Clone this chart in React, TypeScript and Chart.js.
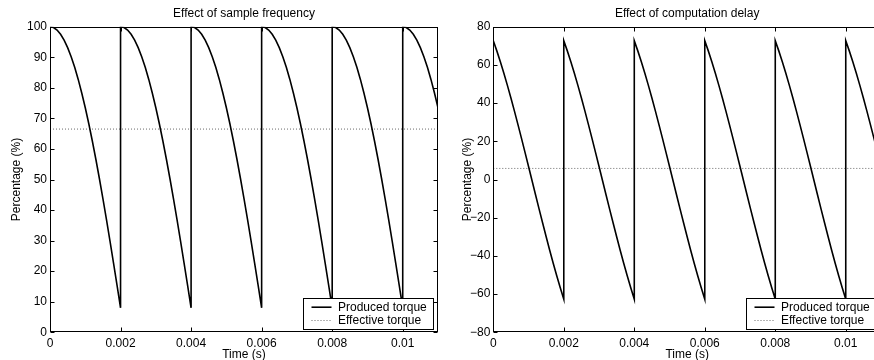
import React, { useEffect, useRef } from "react";
import { Chart, registerables } from "chart.js";

Chart.register(...registerables);

// ---------- data ----------
const time = [
  0, 0.0001, 0.0002, 0.0003, 0.0004, 0.0005, 0.0006, 0.0007, 0.0008, 0.0009, 0.001,
  0.0011, 0.0012, 0.0013, 0.0014, 0.0015, 0.0016, 0.0017, 0.0018, 0.0019, 0.002,
  0.002, 0.0021, 0.0022, 0.0023, 0.0024, 0.0025, 0.0026, 0.0027, 0.0028, 0.0029, 0.003,
  0.0031, 0.0032, 0.0033, 0.0034, 0.0035, 0.0036, 0.0037, 0.0038, 0.0039, 0.004,
  0.004, 0.0041, 0.0042, 0.0043, 0.0044, 0.0045, 0.0046, 0.0047, 0.0048, 0.0049, 0.005,
  0.0051, 0.0052, 0.0053, 0.0054, 0.0055, 0.0056, 0.0057, 0.0058, 0.0059, 0.006,
  0.006, 0.0061, 0.0062, 0.0063, 0.0064, 0.0065, 0.0066, 0.0067, 0.0068, 0.0069, 0.007,
  0.0071, 0.0072, 0.0073, 0.0074, 0.0075, 0.0076, 0.0077, 0.0078, 0.0079, 0.008,
  0.008, 0.0081, 0.0082, 0.0083, 0.0084, 0.0085, 0.0086, 0.0087, 0.0088, 0.0089, 0.009,
  0.0091, 0.0092, 0.0093, 0.0094, 0.0095, 0.0096, 0.0097, 0.0098, 0.0099, 0.01,
  0.01, 0.0101, 0.0102, 0.0103, 0.0104, 0.0105, 0.0106, 0.0107, 0.0108, 0.0109, 0.011,
];

const producedSampleFreq = [
  100, 99.72, 98.89, 97.51, 95.59, 93.14, 90.17, 86.7, 82.75, 78.33, 73.49,
  68.23, 62.59, 56.63, 50.33, 43.77, 36.94, 29.92, 22.73, 15.42, 8.02,
  100, 99.72, 98.89, 97.51, 95.59, 93.14, 90.17, 86.7, 82.75, 78.33, 73.49,
  68.23, 62.59, 56.63, 50.33, 43.77, 36.94, 29.92, 22.73, 15.42, 8.02,
  100, 99.72, 98.89, 97.51, 95.59, 93.14, 90.17, 86.7, 82.75, 78.33, 73.49,
  68.23, 62.59, 56.63, 50.33, 43.77, 36.94, 29.92, 22.73, 15.42, 8.02,
  100, 99.72, 98.89, 97.51, 95.59, 93.14, 90.17, 86.7, 82.75, 78.33, 73.49,
  68.23, 62.59, 56.63, 50.33, 43.77, 36.94, 29.92, 22.73, 15.42, 8.02,
  100, 99.72, 98.89, 97.51, 95.59, 93.14, 90.17, 86.7, 82.75, 78.33, 73.49,
  68.23, 62.59, 56.63, 50.33, 43.77, 36.94, 29.92, 22.73, 15.42, 8.02,
  100, 99.72, 98.89, 97.51, 95.59, 93.14, 90.17, 86.7, 82.75, 78.33, 73.49,
];

const producedCompDelay = [
  72.66, 67.34, 61.66, 55.62, 49.27, 42.66, 35.8, 28.75, 21.54, 14.21, 6.8,
  -0.65, -8.09, -15.49, -22.8, -29.99, -37.01, -43.82, -50.4, -56.69, -62.66,
  72.66, 67.34, 61.66, 55.62, 49.27, 42.66, 35.8, 28.75, 21.54, 14.21, 6.8,
  -0.65, -8.09, -15.49, -22.8, -29.99, -37.01, -43.82, -50.4, -56.69, -62.66,
  72.66, 67.34, 61.66, 55.62, 49.27, 42.66, 35.8, 28.75, 21.54, 14.21, 6.8,
  -0.65, -8.09, -15.49, -22.8, -29.99, -37.01, -43.82, -50.4, -56.69, -62.66,
  72.66, 67.34, 61.66, 55.62, 49.27, 42.66, 35.8, 28.75, 21.54, 14.21, 6.8,
  -0.65, -8.09, -15.49, -22.8, -29.99, -37.01, -43.82, -50.4, -56.69, -62.66,
  72.66, 67.34, 61.66, 55.62, 49.27, 42.66, 35.8, 28.75, 21.54, 14.21, 6.8,
  -0.65, -8.09, -15.49, -22.8, -29.99, -37.01, -43.82, -50.4, -56.69, -62.66,
  72.66, 67.34, 61.66, 55.62, 49.27, 42.66, 35.8, 28.75, 21.54, 14.21, 6.8,
];

const effectiveTime = [0, 0.011];
const effectiveSampleFreq = [66.5, 66.5];
const effectiveCompDelay = [5.8, 5.8];

const xTicks = [0, 0.002, 0.004, 0.006, 0.008, 0.01];
const xTickLabels = ["0", "0.002", "0.004", "0.006", "0.008", "0.01"];
const yTicksSampleFreq = [0, 10, 20, 30, 40, 50, 60, 70, 80, 90, 100];
const yTickLabelsSampleFreq = ["0", "10", "20", "30", "40", "50", "60", "70", "80", "90", "100"];
const yTicksCompDelay = [-80, -60, -40, -20, 0, 20, 40, 60, 80];
const yTickLabelsCompDelay = ["\u221280", "\u221260", "\u221240", "\u221220", "0", "20", "40", "60", "80"];

const legendLabels = ["Produced torque", "Effective torque"];
const plotTitles = ["Effect of sample frequency", "Effect of computation delay"];
const xAxisTitle = "Time (s)";
const yAxisTitle = "Percentage (%)";

// ---------- styling ----------
const FONT_FAMILY = '"Liberation Sans", Arial, Helvetica, sans-serif';
const FONT_SIZE = 12;
const fontMain = { family: FONT_FAMILY, size: FONT_SIZE, weight: "normal" as const };

const matlabPlugin = {
  id: "matlabFrame",
  afterDraw(chart: any) {
    const { ctx, chartArea: a, scales } = chart;
    const xs = scales.x;
    const ys = scales.y;
    ctx.save();
    ctx.strokeStyle = "#000";
    ctx.lineWidth = 1;
    ctx.setLineDash([]);
    const L = Math.round(a.left) + 0.5;
    const R = Math.round(a.right) - 0.5;
    const T = Math.round(a.top) + 0.5;
    const B = Math.round(a.bottom) - 0.5;
    ctx.strokeRect(L, T, R - L, B - T);
    const tl = 4;
    ctx.beginPath();
    xs.ticks.forEach((t: any) => {
      const px = Math.round(xs.getPixelForValue(t.value)) + 0.5;
      ctx.moveTo(px, B);
      ctx.lineTo(px, B - tl);
      ctx.moveTo(px, T);
      ctx.lineTo(px, T + tl);
    });
    ys.ticks.forEach((t: any) => {
      const py = Math.round(ys.getPixelForValue(t.value)) + 0.5;
      ctx.moveTo(L, py);
      ctx.lineTo(L + tl, py);
      ctx.moveTo(R, py);
      ctx.lineTo(R - tl, py);
    });
    ctx.stroke();

    // legend box (lower right, inside axes)
    const bx0 = Math.round(a.right - 135) + 0.5;
    const bx1 = Math.round(a.right - 5) + 0.5;
    const by0 = Math.round(a.bottom - 34.5) + 0.5;
    const by1 = Math.round(a.bottom - 3.5) + 0.5;
    ctx.fillStyle = "#fff";
    ctx.fillRect(bx0, by0, bx1 - bx0, by1 - by0);
    ctx.strokeStyle = "#000";
    ctx.strokeRect(bx0, by0, bx1 - bx0, by1 - by0);
    chart.data.datasets.forEach((ds: any, i: number) => {
      const cy = by0 + 8.7 + i * 13.3;
      ctx.save();
      ctx.strokeStyle = ds.borderColor;
      ctx.lineWidth = ds.borderWidth;
      ctx.setLineDash(ds.borderDash || []);
      ctx.beginPath();
      ctx.moveTo(bx0 + 8, cy);
      ctx.lineTo(bx0 + 28, cy);
      ctx.stroke();
      ctx.restore();
      ctx.fillStyle = "#000";
      ctx.font = `${FONT_SIZE}px ${FONT_FAMILY}`;
      ctx.textBaseline = "middle";
      ctx.textAlign = "left";
      ctx.fillText(ds.label, bx0 + 34.5, cy);
    });
    ctx.restore();
  },
};

type PanelProps = {
  title: string;
  produced: number[];
  effective: number[];
  yMin: number;
  yMax: number;
  yTicks: number[];
  yTickLabels: string[];
  yAxisWidth: number;
  yTitlePad: number;
  padRight: number;
};

function Panel(p: PanelProps) {
  const ref = useRef<HTMLCanvasElement | null>(null);
  useEffect(() => {
    if (!ref.current) return;
    const chart = new Chart(ref.current, {
      type: "line",
      data: {
        datasets: [
          {
            label: legendLabels[0],
            data: time.map((t, i) => ({ x: t, y: p.produced[i] })),
            borderColor: "#000",
            borderWidth: 1.6,
            pointRadius: 0,
            fill: false,
            tension: 0,
          },
          {
            label: legendLabels[1],
            data: effectiveTime.map((t, i) => ({ x: t, y: p.effective[i] })),
            borderColor: "#6a6a6a",
            borderWidth: 1,
            borderDash: [1, 2],
            pointRadius: 0,
            fill: false,
          },
        ],
      },
      options: {
        animation: false,
        responsive: false,
        devicePixelRatio: 1,
        layout: { padding: { left: 0, right: p.padRight, top: 0, bottom: 0 } },
        plugins: {
          legend: { display: false },
          tooltip: { enabled: false },
          title: {
            display: true,
            text: p.title,
            fullSize: false,
            color: "#000",
            font: fontMain,
            padding: { top: 6, bottom: 6.3 },
          },
        },
        scales: {
          x: {
            type: "linear",
            min: 0,
            max: 0.011,
            afterBuildTicks: (s: any) => {
              s.ticks = xTicks.map((v) => ({ value: v }));
            },
            afterFit: (s: any) => {
              s.height = 27.7;
            },
            grid: { display: false, drawTicks: false },
            border: { display: false },
            ticks: {
              color: "#000",
              font: fontMain,
              padding: 4,
              maxRotation: 0,
              autoSkip: false,
              callback: (_v: any, i: number) => xTickLabels[i],
            },
            title: {
              display: true,
              text: xAxisTitle,
              color: "#000",
              font: fontMain,
              padding: { top: 0, bottom: -1.5 },
            },
          },
          y: {
            type: "linear",
            min: p.yMin,
            max: p.yMax,
            afterBuildTicks: (s: any) => {
              s.ticks = p.yTicks.map((v) => ({ value: v }));
            },
            afterFit: (s: any) => {
              s.width = p.yAxisWidth;
            },
            grid: { display: false, drawTicks: false },
            border: { display: false },
            ticks: {
              color: "#000",
              font: fontMain,
              padding: 3,
              autoSkip: false,
              callback: (_v: any, i: number) => p.yTickLabels[i],
            },
            title: {
              display: true,
              text: yAxisTitle,
              color: "#000",
              font: fontMain,
              padding: { top: p.yTitlePad, bottom: 0 },
            },
          },
        },
      },
      plugins: [matlabPlugin],
    } as any);
    return () => chart.destroy();
  }, []);
  return <canvas ref={ref} width={445} height={360} style={{ display: "block", width: 445, height: 360 }} />;
}

export default function App() {
  return (
    <div
      style={{
        position: "fixed",
        left: 0,
        top: 0,
        width: 874,
        height: 360,
        overflow: "hidden",
        background: "#fff",
      }}
    >
      <div style={{ position: "absolute", left: 0, top: 0 }}>
        <Panel
          title={plotTitles[0]}
          produced={producedSampleFreq}
          effective={effectiveSampleFreq}
          yMin={0}
          yMax={100}
          yTicks={yTicksSampleFreq}
          yTickLabels={yTickLabelsSampleFreq}
          yAxisWidth={50}
          yTitlePad={9.5}
          padRight={7}
        />
      </div>
      <div style={{ position: "absolute", left: 445, top: 0 }}>
        <Panel
          title={plotTitles[1]}
          produced={producedCompDelay}
          effective={effectiveCompDelay}
          yMin={-80}
          yMax={80}
          yTicks={yTicksCompDelay}
          yTickLabels={yTickLabelsCompDelay}
          yAxisWidth={48.3}
          yTitlePad={15.1}
          padRight={9}
        />
      </div>
    </div>
  );
}
